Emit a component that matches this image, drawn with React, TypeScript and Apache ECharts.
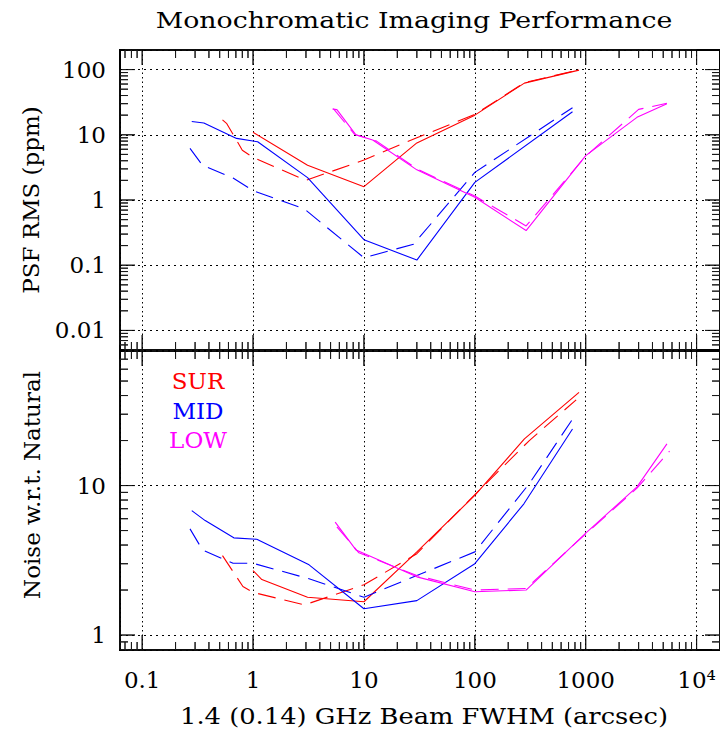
import React, { useEffect, useRef } from 'react';
import * as echarts from 'echarts';

// ---------- tick values and labels ----------
const xTickValues = [0.1, 1, 10, 100, 1000, 10000];
const xTickLabels = ['0.1', '1', '10', '100', '1000', '10⁴'];
const psfTickValues = [0.01, 0.1, 1, 10, 100];
const psfTickLabels = ['0.01', '0.1', '1', '10', '100'];
const noiseTickValues = [1, 10];
const noiseTickLabels = ['1', '10'];

const legendNames = ['SUR', 'MID', 'LOW'];
const legendColors = ['#ff0000', '#0000ff', '#ff00ff'];

// ---------- data: [beam FWHM (arcsec), value] ----------
// Top panel: PSF RMS (ppm)
const surPsfSolid = [[1.0, 10.9], [3.1, 3.4], [10, 1.6], [30, 7.5], [100, 20], [280, 62], [870, 98]];
const surPsfDashed = [[0.53, 16.9], [0.58, 14.8], [0.8, 5.8], [1.0, 4.5], [3.0, 2.0], [10, 4.1], [30, 9.0], [100, 20.5], [280, 63], [870, 99]];
const midPsfSolid = [[0.28, 16], [0.36, 15.2], [0.71, 8.8], [1.1, 7.8], [3.1, 2.2], [10, 0.246], [30, 0.12], [100, 1.86], [760, 22.6]];
const midPsfDashed = [[0.27, 6.2], [0.35, 3.4], [0.66, 2.17], [1.0, 1.39], [2.9, 0.73], [10, 0.13], [28, 0.21], [100, 2.65], [760, 26]];
const lowPsfSolid = [[5.2, 24.9], [5.7, 24.3], [8.5, 9.9], [12, 8.3], [30, 2.9], [100, 1.1], [290, 0.34], [1000, 4.8], [2900, 18.5], [5400, 30]];
const lowPsfDashed = [[5.3, 25.2], [8.2, 10.2], [13, 8.0], [30, 3.0], [100, 1.15], [290, 0.4], [1000, 4.7], [3000, 24.5], [5400, 30.5]];

// Bottom panel: Noise w.r.t. Natural
const surNoiseSolid = [[1.0, 2.7], [1.2, 2.35], [3.1, 1.79], [10, 1.67], [30, 3.6], [100, 8.6], [280, 20.5], [870, 42]];
const surNoiseDashed = [[0.53, 3.4], [0.72, 2.41], [0.81, 2.11], [1.0, 1.93], [2.9, 1.59], [10, 2.17], [30, 3.5], [100, 8.7], [310, 20], [820, 37.4]];
const midNoiseSolid = [[0.28, 6.8], [0.37, 5.83], [0.67, 4.47], [1.08, 4.37], [3.2, 2.95], [10, 1.5], [30, 1.7], [100, 3.0], [277, 7.55], [760, 23.9]];
const midNoiseDashed = [[0.27, 5.13], [0.35, 3.71], [0.66, 3.02], [1.0, 3.02], [3.2, 2.38], [10, 1.79], [30, 2.5], [100, 3.6], [310, 10.3], [780, 28.6]];
const lowNoiseSolid = [[5.5, 5.7], [8.5, 3.7], [30, 2.45], [100, 1.95], [290, 2.0], [1000, 4.8], [2900, 9.8], [5400, 19]];
const lowNoiseDashed = [[5.7, 5.3], [9.0, 3.55], [30, 2.5], [100, 2.0], [290, 2.05], [1000, 4.75], [2900, 9.6], [5700, 17]];

// ---------- layout / axis ranges ----------
const GRID_LEFT = 120;
const GRID_W = 601;
const TOP_H = 300;
const BOT_H = 299;
const X_MIN = Math.pow(10, -1.2);
const X_MAX = Math.pow(10, -1.2 + GRID_W / 111.07);
const PSF_MIN = Math.pow(10, -2.3);
const PSF_MAX = Math.pow(10, 2.3);
const NOISE_MIN = Math.pow(10, -0.1);
const NOISE_MAX = Math.pow(10, 1.9);

const FONT = '"DejaVu Serif", "Liberation Serif", serif';
const MAJOR_LEN = 15;
const MINOR_LEN = 8;
const TICK_COLOR = '#1a1a1a';

function minorTicks(lo: number, hi: number): number[] {
  const out: number[] = [];
  for (let d = Math.floor(Math.log10(lo)) - 1; d <= Math.ceil(Math.log10(hi)); d++) {
    for (let k = 2; k <= 9; k++) {
      const v = k * Math.pow(10, d);
      if (v >= lo && v <= hi) out.push(v);
    }
  }
  return out;
}

function makeFormatter(values: number[], labels: string[]) {
  return (v: number) => {
    const i = values.findIndex((t) => Math.abs(Math.log10(t) - Math.log10(v)) < 1e-6);
    return i >= 0 ? labels[i] : '';
  };
}

function makeAxis(dim: 'x' | 'y', grid: number, position: string, lo: number, hi: number, majors: number[], labels: string[] | null) {
  return {
    type: 'log',
    logBase: 10,
    gridIndex: grid,
    position,
    min: lo,
    max: hi,
    axisLine: { show: false },
    axisTick: { show: false },
    axisLabel: {
      show: !!labels,
      customValues: majors,
      formatter: labels ? makeFormatter(majors, labels) : undefined,
      margin: dim === 'x' ? 18 : 14,
      color: '#000',
      fontFamily: FONT,
      fontSize: 23,
    },
    splitLine: {
      show: true,
      lineStyle: { color: '#000', width: 1, type: dim === 'x' ? [1.5, 3] : [2, 4] },
    },
  };
}

function tickList(majors: number[], lo: number, hi: number): number[][] {
  return majors
    .map((v) => [v, MAJOR_LEN])
    .concat(minorTicks(lo, hi).map((v) => [v, MINOR_LEN]))
    .sort((a, b) => a[0] - b[0]);
}

export default function App() {
  const ref = useRef<HTMLDivElement>(null);

  useEffect(() => {
    if (!ref.current) return;
    const chart = echarts.init(ref.current, null, { renderer: 'svg' });

    const lines = [
      { g: 0, data: surPsfSolid, c: 0, dashed: false },
      { g: 0, data: surPsfDashed, c: 0, dashed: true },
      { g: 0, data: midPsfSolid, c: 1, dashed: false },
      { g: 0, data: midPsfDashed, c: 1, dashed: true },
      { g: 0, data: lowPsfSolid, c: 2, dashed: false },
      { g: 0, data: lowPsfDashed, c: 2, dashed: true },
      { g: 1, data: surNoiseSolid, c: 0, dashed: false },
      { g: 1, data: surNoiseDashed, c: 0, dashed: true },
      { g: 1, data: midNoiseSolid, c: 1, dashed: false },
      { g: 1, data: midNoiseDashed, c: 1, dashed: true },
      { g: 1, data: lowNoiseSolid, c: 2, dashed: false },
      { g: 1, data: lowNoiseDashed, c: 2, dashed: true },
    ];

    const series: any[] = lines.map((l, i) => ({
      type: 'line',
      name: legendNames[l.c] + (l.dashed ? ' dashed' : '') + ' ' + i,
      xAxisIndex: l.g,
      yAxisIndex: l.g,
      data: l.data,
      showSymbol: false,
      symbol: 'none',
      silent: true,
      clip: true,
      z: 5,
      lineStyle: {
        color: legendColors[l.c],
        width: 1.1,
        type: l.dashed ? [18, 9] : 'solid',
      },
    }));

    const textStyle = (text: string, fill = '#000') => ({
      text,
      fontFamily: FONT,
      fontSize: 23,
      fill,
      align: 'center',
      verticalAlign: 'middle',
    });

    const graphics: any[] = [
      { type: 'text', x: 414, y: 20, scaleX: 1.165, style: textStyle('Monochromatic Imaging Performance') },
      { type: 'text', x: 424, y: 716, scaleX: 1.12, style: textStyle('1.4 (0.14) GHz Beam FWHM (arcsec)') },
      { type: 'text', x: 31, y: 200, rotation: Math.PI / 2, style: textStyle('PSF RMS (ppm)') },
      { type: 'text', x: 32, y: 485, rotation: Math.PI / 2, style: textStyle('Noise w.r.t. Natural') },
    ];
    const legendY = [381, 411, 440];
    legendNames.forEach((n, i) => {
      graphics.push({ type: 'text', x: 198, y: legendY[i], style: textStyle(n, legendColors[i]) });
    });

    chart.setOption({
      animation: false,
      backgroundColor: '#fff',
      grid: [
        { left: GRID_LEFT, top: 50, width: GRID_W, height: TOP_H, show: true, borderColor: '#000', borderWidth: 2, backgroundColor: 'transparent' },
        { left: GRID_LEFT, top: 351, width: GRID_W, height: BOT_H, show: true, borderColor: '#000', borderWidth: 2, backgroundColor: 'transparent' },
      ],
      xAxis: [
        makeAxis('x', 0, 'bottom', X_MIN, X_MAX, xTickValues, null),
        makeAxis('x', 1, 'bottom', X_MIN, X_MAX, xTickValues, xTickLabels),
      ],
      yAxis: [
        makeAxis('y', 0, 'left', PSF_MIN, PSF_MAX, psfTickValues, psfTickLabels),
        makeAxis('y', 1, 'left', NOISE_MIN, NOISE_MAX, noiseTickValues, noiseTickLabels),
      ],
      series,
      graphic: graphics,
    } as any);

    // Frame tick marks: zig-zag polylines along each frame side, positioned
    // through the chart's own log axes (convertToPixel).
    const panels = [
      { g: 0, yMaj: psfTickValues, yLo: PSF_MIN, yHi: PSF_MAX },
      { g: 1, yMaj: noiseTickValues, yLo: NOISE_MIN, yHi: NOISE_MAX },
    ];
    const tickEls: any[] = [];
    const pushPoly = (pts: number[][]) => {
      if (pts.length < 2) return;
      tickEls.push({
        type: 'polyline',
        shape: { points: pts },
        style: { stroke: TICK_COLOR, lineWidth: 1, fill: null },
      });
    };
    panels.forEach((p) => {
      const finder: any = { xAxisIndex: p.g, yAxisIndex: p.g };
      const xs = tickList(xTickValues, X_MIN, X_MAX);
      const ys = tickList(p.yMaj, p.yLo, p.yHi);
      const bottom: number[][] = [];
      const top: number[][] = [];
      xs.forEach(([v, len]) => {
        const pb = chart.convertToPixel(finder, [v, p.yLo]) as any;
        const pt = chart.convertToPixel(finder, [v, p.yHi]) as any;
        if (pb) bottom.push([pb[0], pb[1]], [pb[0], pb[1] - len], [pb[0], pb[1]]);
        if (pt) top.push([pt[0], pt[1]], [pt[0], pt[1] + len], [pt[0], pt[1]]);
      });
      const left: number[][] = [];
      const right: number[][] = [];
      ys.forEach(([v, len]) => {
        const pl = chart.convertToPixel(finder, [X_MIN, v]) as any;
        const pr = chart.convertToPixel(finder, [X_MAX, v]) as any;
        if (pl) left.push([pl[0], pl[1]], [pl[0] + len, pl[1]], [pl[0], pl[1]]);
        if (pr) right.push([pr[0], pr[1]], [pr[0] - len, pr[1]], [pr[0], pr[1]]);
      });
      pushPoly(bottom);
      pushPoly(top);
      pushPoly(left);
      pushPoly(right);
    });

    chart.setOption({ graphic: graphics.concat(tickEls) });
    return () => chart.dispose();
  }, []);

  return (
    <div
      ref={ref}
      style={{ position: 'fixed', left: 0, top: 0, width: 720, height: 731, background: '#fff' }}
    />
  );
}
